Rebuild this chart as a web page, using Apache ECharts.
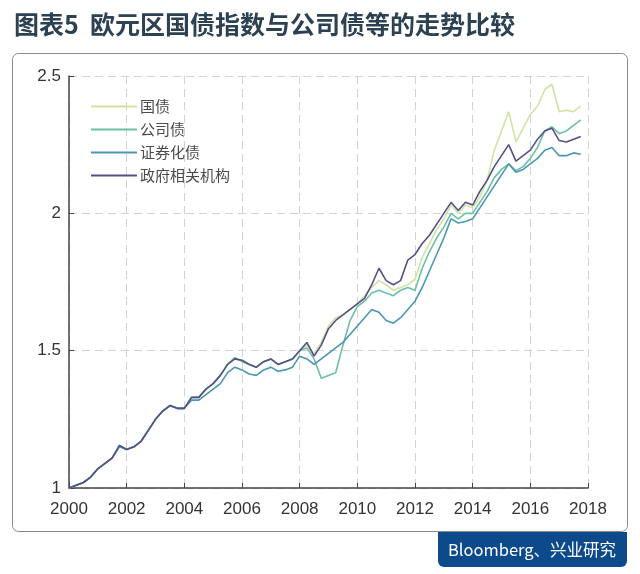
<!DOCTYPE html>
<html>
<head>
<meta charset="utf-8">
<script src="https://cdn.jsdelivr.net/npm/echarts@6/dist/echarts.min.js"></script>
<style>
html,body{margin:0;padding:0;background:#fff;}
#c{width:640px;height:574px;}
</style>
</head>
<body>
<div id="c"></div>
<script>
var times = [
2000.00,2000.25,2000.50,2000.75,2001.00,2001.25,2001.50,2001.75,
2002.00,2002.25,2002.50,2002.75,2003.00,2003.25,2003.50,2003.75,
2004.00,2004.25,2004.50,2004.75,2005.00,2005.25,2005.50,2005.75,
2006.00,2006.25,2006.50,2006.75,2007.00,2007.25,2007.50,2007.75,
2008.00,2008.25,2008.50,2008.75,2009.00,2009.25,2009.50,2009.75,
2010.00,2010.25,2010.50,2010.75,2011.00,2011.25,2011.50,2011.75,
2012.00,2012.25,2012.50,2012.75,2013.00,2013.25,2013.50,2013.75,
2014.00,2014.25,2014.50,2014.75,2015.00,2015.25,2015.50,2015.75,
2016.00,2016.25,2016.50,2016.75,2017.00,2017.25,2017.50,2017.75];

var govBond = [
1.00,1.01,1.02,1.04, 1.07,1.09,1.11,1.155,
1.14,1.15,1.17,1.21, 1.25,1.28,1.30,1.29,
1.29,1.33,1.33,1.36, 1.38,1.41,1.45,1.47,
1.465,1.45,1.44,1.46, 1.47,1.45,1.46,1.47,
1.50,1.52,1.49,1.53, 1.59,1.62,1.63,1.65,
1.67,1.70,1.73,1.755, 1.74,1.72,1.73,1.74,
1.76,1.84,1.89,1.94, 1.98,2.03,2.00,2.03,
2.02,2.06,2.12,2.23, 2.30,2.37,2.26,2.31,
2.36,2.39,2.45,2.47, 2.37,2.375,2.37,2.39];

var corpBond = [
1.00,1.01,1.02,1.04, 1.07,1.09,1.11,1.155,
1.14,1.15,1.17,1.21, 1.25,1.28,1.30,1.29,
1.29,1.33,1.33,1.36, 1.38,1.41,1.45,1.475,
1.46,1.45,1.44,1.46, 1.47,1.45,1.46,1.47,
1.50,1.51,1.47,1.40, 1.41,1.42,1.52,1.61,
1.66,1.68,1.71,1.72, 1.71,1.70,1.72,1.73,
1.72,1.80,1.86,1.91, 1.95,2.00,1.98,2.00,
2.00,2.04,2.08,2.13, 2.16,2.18,2.155,2.17,
2.20,2.24,2.30,2.315, 2.29,2.30,2.32,2.34];

var secBond = [
1.00,1.01,1.02,1.04, 1.07,1.09,1.11,1.15,
1.14,1.15,1.17,1.21, 1.25,1.28,1.30,1.29,
1.29,1.32,1.32,1.34, 1.36,1.38,1.42,1.44,
1.43,1.415,1.41,1.43, 1.44,1.425,1.43,1.44,
1.48,1.47,1.45,1.47, 1.49,1.51,1.53,1.56,
1.59,1.62,1.65,1.64, 1.61,1.60,1.62,1.65,
1.68,1.73,1.79,1.85, 1.91,1.98,1.965,1.97,
1.98,2.02,2.06,2.10, 2.14,2.18,2.15,2.16,
2.18,2.20,2.23,2.24, 2.21,2.21,2.22,2.215];

var agencyBond = [
1.00,1.01,1.02,1.04, 1.07,1.09,1.11,1.155,
1.14,1.15,1.17,1.21, 1.25,1.28,1.30,1.29,
1.29,1.33,1.33,1.36, 1.38,1.41,1.45,1.47,
1.465,1.45,1.44,1.46, 1.47,1.45,1.46,1.47,
1.50,1.53,1.48,1.52, 1.58,1.61,1.63,1.65,
1.67,1.69,1.74,1.80, 1.755,1.74,1.755,1.83,
1.85,1.89,1.92,1.96, 2.00,2.04,2.01,2.04,
2.03,2.08,2.12,2.17, 2.21,2.25,2.19,2.21,
2.23,2.27,2.30,2.31, 2.265,2.26,2.27,2.28];

var seriesNames = ['国债','公司债','证券化债','政府相关机构'];
var seriesColors = ['#cfe4a2','#6cc0a6','#4a96b4','#56508a'];
var xTicks = [2000,2002,2004,2006,2008,2010,2012,2014,2016,2018];
var yTicks = [1,1.5,2,2.5];

function pairs(arr){ return times.map(function(t,i){ return [t, arr[i]]; }); }
var allData = [govBond, corpBond, secBond, agencyBond];

var chart = echarts.init(document.getElementById('c'), null, {renderer:'canvas'});
var font = '"Liberation Sans", Arial, sans-serif';
var option = {
  backgroundColor:'#fff',
  animation:false,
  title:{
    text:'图表5  欧元区国债指数与公司债等的走势比较',
    left:9, top:7,
    textStyle:{fontFamily:'"Noto Sans CJK SC", sans-serif', fontSize:25, fontWeight:'bold', color:'#2c4152'}
  },
  graphic:[
    {type:'rect', shape:{x:12.5, y:53.5, width:615, height:478, r:6}, style:{fill:'none', stroke:'#8a8a8a', lineWidth:1}, z:-1},
    {type:'rect', shape:{x:438, y:532, width:189, height:35, r:[0,0,6,6]}, style:{fill:'#0d4a8c'}},
    {type:'text', x:532, y:549.5, style:{text:'Bloomberg、兴业研究', fill:'#fff', font:'16.5px "Noto Sans CJK SC", sans-serif', textAlign:'center', textVerticalAlign:'middle'}}
  ],
  legend:{
    orient:'vertical', left:86, top:94, itemGap:8,
    itemWidth:46, itemHeight:2, icon:'rect',
    data:seriesNames,
    textStyle:{fontFamily:'"Noto Sans CJK SC", sans-serif', fontSize:15, color:'#4a4a4a', padding:[0,0,0,-2]}
  },
  grid:{left:69, right:52, top:76, bottom:86, containLabel:false},
  xAxis:{
    type:'value', min:2000, max:2018, interval:2,
    axisLine:{show:true, lineStyle:{color:'#444', width:1.5}},
    axisTick:{show:true, inside:true, length:5, lineStyle:{color:'#444'}},
    axisLabel:{color:'#333', fontSize:17, fontFamily:font, margin:13, formatter:function(v){return String(v);}},
    splitLine:{show:true, lineStyle:{color:'#d2d2d2', type:[8,5], width:1}}
  },
  yAxis:{
    type:'value', min:1, max:2.5, interval:0.5,
    axisLine:{show:true, lineStyle:{color:'#444', width:1.5}},
    axisTick:{show:true, inside:true, length:5, lineStyle:{color:'#444'}},
    axisLabel:{color:'#333', fontSize:17, fontFamily:font, margin:8, formatter:function(v){return String(v);}},
    splitLine:{show:true, lineStyle:{color:'#d2d2d2', type:[8,5], width:1}}
  },
  series: seriesNames.map(function(n,i){
    return {name:n, type:'line', data:pairs(allData[i]), showSymbol:false, symbol:'none',
      lineStyle:{color:seriesColors[i], width:1.6}, itemStyle:{color:seriesColors[i]}, z:2+i};
  })
};
chart.setOption(option);
</script>
</body>
</html>
